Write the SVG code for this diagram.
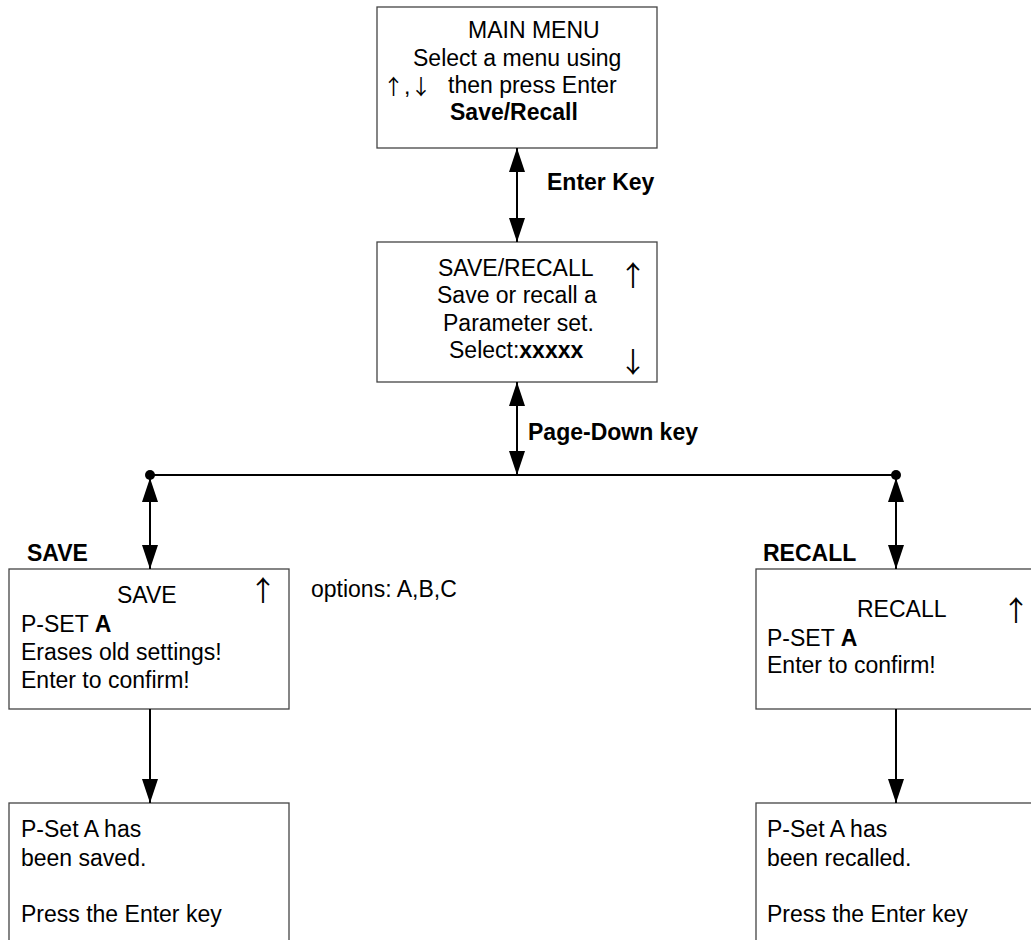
<svg xmlns="http://www.w3.org/2000/svg" width="1031" height="940" viewBox="0 0 1031 940">
<style>
  text { font-family: "Liberation Sans", Arial, sans-serif; font-size: 23px; fill: #000; }
  .b { font-weight: bold; }
  .box { fill: #fff; stroke: #444; stroke-width: 1.3; }
  .con { stroke: #000; stroke-width: 2; fill: none; }
  .arw { font-family: "Noto Sans CJK JP", "DejaVu Sans", sans-serif; font-size: 28px; text-anchor: middle; }
  .ars { font-family: "Noto Sans CJK JP", "DejaVu Sans", sans-serif; font-size: 21px; }
</style>
<defs>
  <marker id="ah" viewBox="0 0 24 16" markerWidth="24" markerHeight="16" refX="24" refY="8" orient="auto-start-reverse" markerUnits="userSpaceOnUse">
    <path d="M0,0 L24,8 L0,16 z" fill="#000"/>
  </marker>
</defs>
<rect width="1031" height="940" fill="#fff"/>

<g id="main-menu">
  <rect class="box" x="377" y="7" width="280" height="141"/>
  <text x="468" y="38">MAIN MENU</text>
  <text x="413" y="66">Select a menu using</text>
  <text x="383" y="94"><tspan class="ars">↑</tspan>,<tspan class="ars">↓</tspan></text>
  <text x="448" y="93">then press Enter</text>
  <text class="b" x="450" y="120">Save/Recall</text>
</g>

<g id="save-recall">
  <rect class="box" x="377" y="242" width="280" height="140"/>
  <text x="438" y="276">SAVE/RECALL</text>
  <text class="arw" x="633" y="286">↑</text>
  <text x="437" y="303">Save or recall a</text>
  <text x="443" y="331">Parameter set.</text>
  <text x="449" y="358">Select:<tspan class="b">xxxxx</tspan></text>
  <text class="arw" x="633" y="373">↓</text>
</g>

<g id="save">
  <rect class="box" x="9" y="569" width="280" height="140"/>
  <text x="117" y="603">SAVE</text>
  <text class="arw" x="263" y="601">↑</text>
  <text x="21" y="632">P-SET <tspan class="b">A</tspan></text>
  <text x="21" y="660">Erases old settings!</text>
  <text x="21" y="688">Enter to confirm!</text>
</g>

<g id="recall">
  <rect class="box" x="756" y="569" width="290" height="140"/>
  <text x="857" y="617">RECALL</text>
  <text class="arw" x="1016" y="621">↑</text>
  <text x="767" y="646">P-SET <tspan class="b">A</tspan></text>
  <text x="767" y="673">Enter to confirm!</text>
</g>

<g id="saved">
  <rect class="box" x="9" y="803" width="280" height="160"/>
  <text x="21" y="837">P-Set A has</text>
  <text x="21" y="866">been saved.</text>
  <text x="21" y="922">Press the Enter key</text>
</g>

<g id="recalled">
  <rect class="box" x="756" y="803" width="290" height="160"/>
  <text x="767" y="837">P-Set A has</text>
  <text x="767" y="866">been recalled.</text>
  <text x="767" y="922">Press the Enter key</text>
</g>

<g id="labels">
  <text class="b" x="547" y="190">Enter Key</text>
  <text class="b" x="528" y="440">Page-Down key</text>
  <text class="b" x="27" y="561">SAVE</text>
  <text class="b" x="763" y="561">RECALL</text>
  <text x="311" y="597">options: A,B,C</text>
</g>

<g id="connectors">
  <line class="con" x1="517" y1="148" x2="517" y2="242" marker-start="url(#ah)" marker-end="url(#ah)"/>
  <line class="con" x1="517" y1="382" x2="517" y2="475" marker-start="url(#ah)" marker-end="url(#ah)"/>
  <line class="con" x1="150" y1="475" x2="896" y2="475"/>
  <circle cx="150" cy="475" r="5" fill="#000"/>
  <circle cx="896" cy="475" r="5" fill="#000"/>
  <line class="con" x1="150" y1="478" x2="150" y2="569" marker-start="url(#ah)" marker-end="url(#ah)"/>
  <line class="con" x1="896" y1="478" x2="896" y2="569" marker-start="url(#ah)" marker-end="url(#ah)"/>
  <line class="con" x1="150" y1="709" x2="150" y2="803" marker-end="url(#ah)"/>
  <line class="con" x1="896" y1="709" x2="896" y2="803" marker-end="url(#ah)"/>
</g>
</svg>
